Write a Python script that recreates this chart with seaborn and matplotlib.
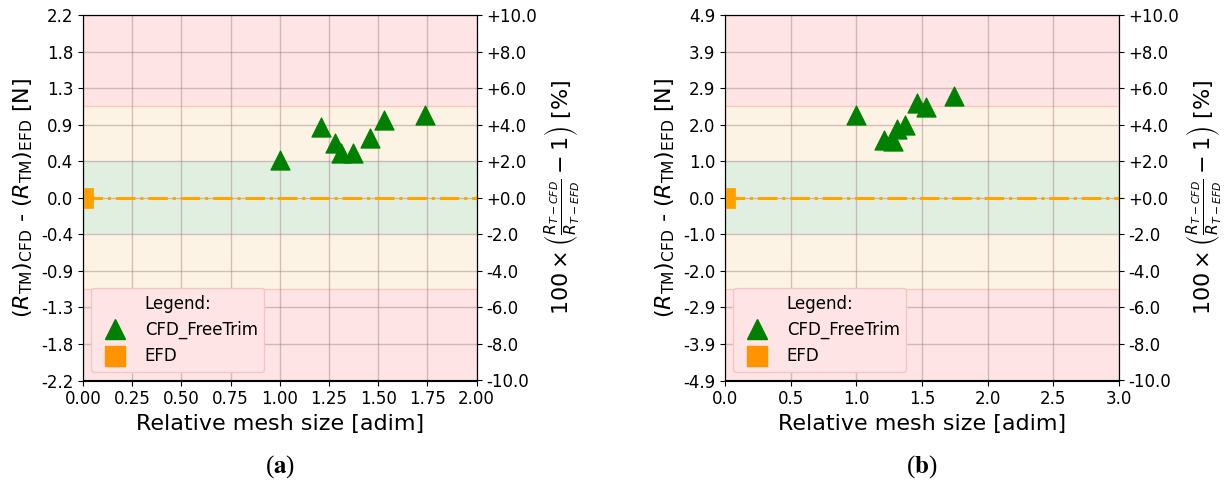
import numpy as np
import matplotlib
matplotlib.use("Agg")
import matplotlib.pyplot as plt
import seaborn as sns
from matplotlib.lines import Line2D

# ---------------- data ----------------
mesh_size = [1.00, 1.21, 1.28, 1.31, 1.37, 1.46, 1.53, 1.74]
delta_r_a = [0.46, 0.85, 0.66, 0.54, 0.54, 0.72, 0.94, 1.00]   # N, panel (a)
delta_r_b = [2.22, 1.55, 1.51, 1.85, 1.95, 2.55, 2.43, 2.74]   # N, panel (b)
efd_x = [0.0]
efd_y = [0.0]
r_efd = [22.0, 49.0]          # reference EFD resistance [N] per panel
x_max = [2.0, 3.0]
x_step = [0.25, 0.5]
x_fmt = ["{:.2f}", "{:.1f}"]
panel_labels = ["a", "b"]
pct_ticks = [-10, -8, -6, -4, -2, 0, 2, 4, 6, 8, 10]
band_limits = [2.0, 5.0, 10.0]  # % : green / yellow / red
band_colors = ["#e1efe1", "#fdf3e5", "#fee4e4"]

# ---------------- figure ----------------
W, H = 1227, 492
fig = plt.figure(figsize=(W / 100, H / 100), dpi=100)

ax_boxes = [(83, 15, 476.5, 380.5), (725, 15, 1119, 380.5)]

for i, (x0, y0, x1, y1) in enumerate(ax_boxes):
    ax = fig.add_axes([x0 / W, 1 - y1 / H, (x1 - x0) / W, (y1 - y0) / H])
    R = r_efd[i]
    scale = R / 100.0
    ymax = band_limits[2] * scale

    # bands
    lo = 0.0
    for lim, col in zip(band_limits, band_colors):
        ax.axhspan(lo * scale, lim * scale, color=col, zorder=0, lw=0)
        ax.axhspan(-lim * scale, -lo * scale, color=col, zorder=0, lw=0)
        lo = lim
    for lim in band_limits[1:2]:
        ax.axhline(lim * scale, color="#f8c8b8", lw=1, zorder=0.2)
        ax.axhline(-lim * scale, color="#f8c8b8", lw=1, zorder=0.2)

    ax.set_axisbelow(True)
    ax.grid(True, color="#a08080", alpha=0.45, lw=1)

    ax.axhline(0, color="orange", ls="-.", lw=2.2, zorder=2)
    sns.scatterplot(x=efd_x, y=efd_y, marker="s", s=215, color="#ffa000",
                    edgecolor="#ffa000", linewidth=0.5, ax=ax, zorder=3,
                    legend=False)
    yvals = delta_r_a if i == 0 else delta_r_b
    sns.scatterplot(x=mesh_size, y=yvals, marker="^", s=190, color="green",
                    edgecolor="green", linewidth=0.8, ax=ax, zorder=4,
                    legend=False)

    ax.set_xlim(0, x_max[i])
    ax.set_ylim(-ymax, ymax)
    xt = np.arange(0, x_max[i] + 1e-9, x_step[i])
    ax.set_xticks(xt)
    ax.set_xticklabels([x_fmt[i].format(v) for v in xt])
    yt = np.linspace(-ymax, ymax, 11)
    ax.set_yticks(yt)
    ax.set_yticklabels(["{:.1f}".format(v + 0.0) for v in yt])
    ax.tick_params(labelsize=12)
    ax.set_xlabel("Relative mesh size [adim]", fontsize=16)
    ax.set_ylabel(r"$(R_{\rm TM})_{\rm CFD}$ - $(R_{\rm TM})_{\rm EFD}$ [N]",
                  fontsize=16)

    ax2 = ax.twinx()
    ax2.set_ylim(-10, 10)
    ax2.set_yticks(pct_ticks)
    ax2.set_yticklabels(["{:+.1f}".format(v) for v in pct_ticks])
    ax2.tick_params(labelsize=12)
    ax2.set_ylabel(r"$100 \times \left(\frac{R_{T-CFD}}{R_{T-EFD}} - 1\right)$ [%]",
                   fontsize=16)

    handles = [
        Line2D([], [], marker="^", color="green", ls="none", markersize=15,
               label="CFD_FreeTrim"),
        Line2D([], [], marker="s", color="#ff9400", ls="none", markersize=15,
               label="EFD"),
    ]
    leg = ax2.legend(handles=handles, loc="lower left", title="Legend:",
                     fontsize=12, title_fontsize=12, frameon=True,
                     facecolor="#fee4e4", edgecolor="#f2c6c6", framealpha=1.0,
                     fancybox=True)

    cx = (x0 + x1) / 2 / W
    fig.text(cx, 1 - 467 / H, r"($\mathbf{%s}$)" % panel_labels[i],
             ha="center", va="center", fontsize=18,
             family="Liberation Serif", math_fontfamily="stix")

fig.savefig("out.png", dpi=100)
